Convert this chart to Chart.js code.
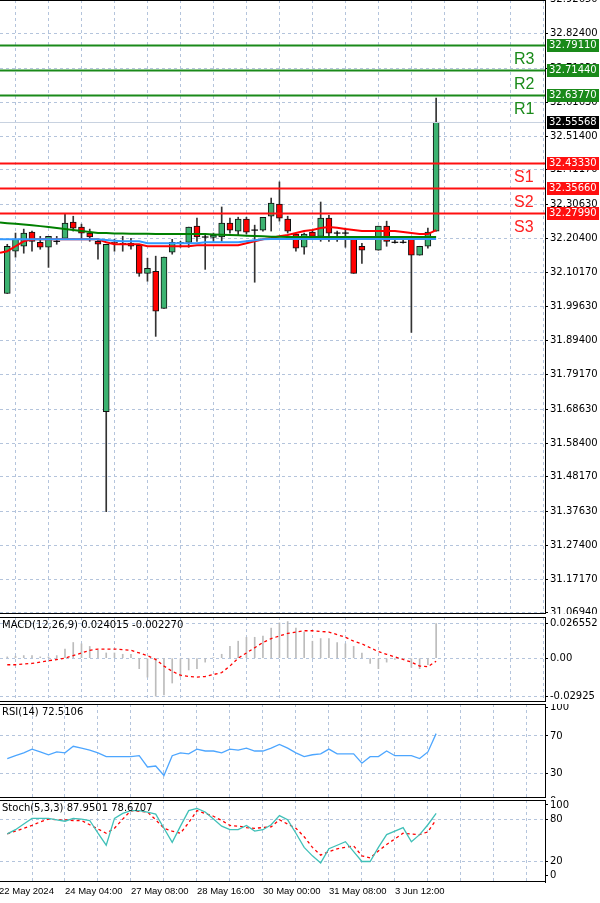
<!DOCTYPE html>
<html><head><meta charset="utf-8">
<script src="https://cdn.jsdelivr.net/npm/chart.js@4"></script>
<style>
html,body{margin:0;padding:0;background:#fff;width:600px;height:903px;overflow:hidden}
canvas{position:absolute;left:0}
</style></head><body>
<canvas id="cMain" style="top:0"></canvas>
<canvas id="cMacd" style="top:617px"></canvas>
<canvas id="cRsi" style="top:704px"></canvas>
<canvas id="cSto" style="top:800px"></canvas>
<script>
// ---------- DATA ----------
const timeLabels = ['22 May 2024','24 May 04:00','27 May 08:00','28 May 16:00','30 May 00:00','31 May 08:00','3 Jun 12:00'];
const openP  = [32.037,32.165,32.180,32.223,32.192,32.177,32.195,32.204,32.253,32.238,32.220,32.195,31.679,32.192,32.189,32.189,32.183,32.098,32.104,31.992,32.162,32.189,32.192,32.241,32.208,32.207,32.208,32.250,32.226,32.262,32.229,32.229,32.271,32.308,32.262,32.217,32.177,32.223,32.210,32.265,32.220,32.220,32.210,32.180,null,32.168,32.241,32.192,32.192,32.201,32.153,32.180,32.226];
const highP  = [32.186,32.220,32.232,32.226,32.210,32.210,32.210,32.277,32.271,32.247,32.232,32.201,32.186,32.201,32.210,32.204,32.183,32.144,32.150,32.147,32.201,32.195,32.238,32.265,32.217,32.220,32.299,32.265,32.268,32.268,32.244,32.268,32.326,32.375,32.271,32.217,32.220,32.229,32.314,32.274,32.226,32.235,32.210,32.189,null,32.241,32.256,32.201,32.201,32.201,32.180,32.235,32.629];
const lowP   = [32.037,32.147,32.159,32.165,32.171,32.116,32.186,32.204,32.226,32.201,32.195,32.141,31.376,32.165,32.165,32.171,32.089,32.074,31.907,31.992,32.156,32.177,32.177,32.195,32.110,32.195,32.195,32.220,32.214,32.217,32.071,32.226,32.226,32.256,32.220,32.165,32.156,32.201,32.195,32.195,32.195,32.177,32.098,32.128,null,32.168,32.180,32.189,32.189,31.919,32.153,32.174,32.226];
const closeP = [32.180,32.201,32.220,32.195,32.177,32.210,32.196,32.250,32.235,32.220,32.208,32.186,32.186,32.189,32.186,32.180,32.098,32.113,31.983,32.147,32.192,32.192,32.238,32.208,32.207,32.214,32.250,32.229,32.262,32.223,32.228,32.268,32.311,32.265,32.226,32.174,32.217,32.210,32.265,32.220,32.219,32.219,32.098,32.168,null,32.241,32.195,32.193,32.193,32.153,32.180,32.223,32.556];
// moving averages: first value is the left edge of the window (bar 0), then one value per candle
const maGreen = [32.252,32.250,32.248,32.246,32.244,32.241,32.238,32.235,32.232,32.229,32.226,32.223,32.220,32.220,32.219,32.219,32.218,32.218,32.218,32.217,32.217,32.217,32.217,32.217,32.217,32.217,32.216,32.215,32.214,32.213,32.212,32.211,32.210,32.209,32.209,32.208,32.208,32.208,32.208,32.208,32.208,32.208,32.208,32.208,32.208,32.208,32.208,32.208,32.208,32.208,32.208,32.208,32.208,32.208];
const maBlue = [32.201,32.201,32.201,32.201,32.201,32.201,32.201,32.201,32.201,32.201,32.201,32.201,32.201,32.199,32.197,32.195,32.195,32.195,32.189,32.189,32.189,32.189,32.189,32.189,32.189,32.192,32.192,32.192,32.192,32.192,32.195,32.198,32.201,32.202,32.202,32.202,32.202,32.202,32.202,32.202,32.202,32.202,32.202,32.202,32.202,32.202,32.202,32.202,32.202,32.202,32.202,32.202,32.202,32.202];
const maRed = [32.160,32.165,32.180,32.195,32.201,32.201,32.201,32.201,32.201,32.201,32.201,32.201,32.201,32.192,32.186,32.186,32.186,32.186,32.180,32.180,32.180,32.180,32.180,32.180,32.183,32.183,32.183,32.183,32.183,32.183,32.189,32.195,32.201,32.205,32.210,32.214,32.220,32.226,32.229,32.235,32.238,32.236,32.232,32.229,32.226,32.226,32.226,32.226,32.226,32.223,32.220,32.217,32.217,32.229];
const resistLevels = [32.7911,32.7144,32.6377];
const resistNames = ['R3','R2','R1'];
const supportLevels = [32.4333,32.3566,32.2799];
const supportNames = ['S1','S2','S3'];
const lastPrice = 32.55568;
const mainTicks = [32.9265,32.824,32.7193,32.6163,32.514,32.4117,32.3063,32.204,32.1017,31.9963,31.894,31.7917,31.6863,31.584,31.4817,31.3763,31.274,31.1717,31.0694];
const macdHist = [0.001,0.0015,0.002,0.002,0.001,0.001,0.002,0.007,0.012,0.011,0.009,0.006,0.004,0.004,0.003,0.003,-0.008,-0.0145,-0.029,-0.028,-0.019,-0.014,-0.009,-0.008,-0.003,0.0005,0.003,0.009,0.013,0.016,0.016,0.017,0.023,0.027,0.028,0.023,0.020,0.013,0.015,0.015,0.012,0.011,0.009,0.004,-0.004,-0.008,-0.003,-0.001,-0.001,-0.007,-0.008,-0.005,0.0265];
const macdSignal = [-0.005,-0.005,-0.0045,-0.004,-0.003,-0.002,-0.001,0,0.002,0.004,0.006,0.007,0.007,0.007,0.0065,0.006,0.004,0.002,-0.001,-0.006,-0.010,-0.013,-0.014,-0.0145,-0.014,-0.0125,-0.011,-0.006,0,0.004,0.008,0.012,0.015,0.017,0.019,0.020,0.021,0.021,0.0205,0.020,0.018,0.016,0.013,0.011,0.008,0.005,0.003,0.001,-0.001,-0.003,-0.006,-0.0065,-0.0023];
const macdTicks = [0.026552,0,-0.02925];
const macdTickText = ['0.026552','0.00','-0.02925'];
const rsiVals = [46,49,52,56,53,50,53,52,59,57,55,52,48,48,48,48,49,37,38,28,49,52,51,56,54,54,52,56,55,57,54,54,57,61,57,52,48,50,51,56,51,51,51,41,48,48,54,49,49,49,46,53,72.5];
const rsiTicks = [100,70,30,0];
const stochMain = [59,65,73,81,81,81,79,77,81,80,78,60,43,81,88,92,92,90,87,67,47,70,92,95,90,80,70,65,65,71,63,65,72,85,79,60,40,28,18,38,43,48,34,20,20,40,58,63,68,48,58,72,88];
const stochSignal = [59,63,67,71,76,80,79,79,78,78,72,66,60,67,80,92,91,90,79,67,63,60,75,92,88,84,78,71,70,68,67,68,69,79,73,67,55,40,29,34,38,40,42,28,25,35,44,52,60,59,58,62,79];
const stochTicks = [100,80,20,0];

// ---------- HELPERS ----------
const FONT = {family:'Tahoma, "DejaVu Sans", "Liberation Sans", sans-serif', size:10};
const GRID = '#b4c4dc';
const XMIN = 0.12, XMAX = 66.2;
const idx = openP.map((_, i) => i + 1);
const pts = arr => arr.map((v, i) => ({x: i + 1, y: v}));
const ptsEdge = arr => arr.map((v, i) => ({x: i === 0 ? XMIN : i, y: v}));
Chart.defaults.font = FONT;
Chart.defaults.color = '#000';
Chart.defaults.animation = false;

function xScale(showLabels) {
  return {
    type: 'linear', min: XMIN, max: XMAX, offset: false,
    afterBuildTicks: s => { const t = []; for (let v = 0; v <= 64; v += 4) t.push({value: v}); s.ticks = t; },
    grid: {color: GRID, drawTicks: false, lineWidth: 1},
    border: {display: false, dash: [3, 3]},
    ticks: {
      display: showLabels, autoSkip: false, maxRotation: 0, align: 'start', padding: 4,
      font: {family: '"Liberation Sans", Arial, sans-serif', size: 9.5}, color: '#000',
      callback: v => (v % 8 === 0 && v / 8 < timeLabels.length) ? timeLabels[v / 8] : ''
    },
    afterFit: s => { if (!showLabels) s.height = 0; else s.height = 21; s.paddingLeft = 0; s.paddingRight = 0; }
  };
}
function yScale(min, max, ticks, fmt, gridFilter) {
  return {
    type: 'linear', position: 'right', min, max,
    afterBuildTicks: s => { s.ticks = ticks.map(v => ({value: v})); },
    grid: {color: ctx => (gridFilter && !gridFilter(ctx.tick && ctx.tick.value)) ? 'rgba(0,0,0,0)' : GRID, drawTicks: true, tickLength: 3, tickColor: '#000'},
    border: {display: true, color: '#000', dash: [3, 3]},
    ticks: {autoSkip: false, padding: 2, font: FONT, color: '#000', callback: fmt},
    afterFit: s => { s.width = 55; s.paddingTop = 0; s.paddingBottom = 0; }
  };
}

const frame = {
  id: 'frame',
  afterDraw(chart) {
    const {ctx, chartArea: a} = chart;
    ctx.save();
    ctx.strokeStyle = '#000'; ctx.lineWidth = 1;
    ctx.strokeRect(Math.round(a.left) - 0.5, Math.round(a.top) + 0.5, Math.round(a.right - a.left) + 1, Math.round(a.bottom - a.top) - 1);
    ctx.restore();
    const t = chart.options.plugins.panelTitle;
    if (t) {
      ctx.save(); ctx.font = '10px ' + FONT.family; ctx.fillStyle = '#000'; ctx.textBaseline = 'top';
      ctx.fillText(t, a.left + 2, a.top + 3); ctx.restore();
    }
  }
};

function makeOpts(extra) {
  return Object.assign({
    responsive: false, maintainAspectRatio: false, animation: false,
    layout: {padding: 0, autoPadding: false},
    plugins: {legend: {display: false}, tooltip: {enabled: false}},
    datasets: {bar: {grouped: false}}
  }, extra);
}
function setSize(id, h) { const c = document.getElementById(id); c.width = 600; c.height = h; c.style.width = '600px'; c.style.height = h + 'px'; return c; }

// ---------- MAIN PRICE CHART ----------
const isUp = i => closeP[i] >= openP[i];
const levels = {
  id: 'levels',
  afterDatasetsDraw(chart) {
    const {ctx, chartArea: a, scales: {y}} = chart;
    ctx.save();
    function hline(v, color, w) {
      const py = Math.round(y.getPixelForValue(v)) + 0.5;
      ctx.strokeStyle = color; ctx.lineWidth = w;
      ctx.beginPath(); ctx.moveTo(a.left, py); ctx.lineTo(a.right, py); ctx.stroke();
      return py;
    }
    hline(lastPrice, '#c8d2e0', 1);
    resistLevels.forEach((v, i) => {
      const py = hline(v, '#1a8a1a', 2);
      ctx.fillStyle = '#1a8a1a'; ctx.font = '16px "Liberation Sans", Arial, sans-serif'; ctx.textBaseline = 'middle'; ctx.textAlign = 'left';
      ctx.fillText(resistNames[i], a.right - 31, py + 14);
    });
    supportLevels.forEach((v, i) => {
      const py = hline(v, '#ff1010', 2);
      ctx.fillStyle = '#ff2020'; ctx.font = '16px "Liberation Sans", Arial, sans-serif'; ctx.textBaseline = 'middle'; ctx.textAlign = 'left';
      ctx.fillText(supportNames[i], a.right - 31, py + 14);
    });
    ctx.restore();
  },
  afterDraw(chart) {
    const {ctx, chartArea: a, scales: {y}} = chart;
    ctx.save();
    function box(v, bg, txt) {
      const py = Math.round(y.getPixelForValue(v));
      ctx.fillStyle = bg; ctx.fillRect(a.right + 2, py - 6, 52, 13);
      ctx.fillStyle = '#fff'; ctx.font = '10px ' + FONT.family; ctx.textBaseline = 'middle'; ctx.textAlign = 'left';
      ctx.fillText(txt, a.right + 4, py + 0.5);
    }
    resistLevels.forEach(v => box(v, '#1a8a1a', v.toFixed(5)));
    supportLevels.forEach(v => box(v, '#ff1010', v.toFixed(5)));
    box(lastPrice, '#000', lastPrice.toFixed(5));
    ctx.restore();
  }
};

setSize('cMain', 614);
new Chart(document.getElementById('cMain'), {
  data: {
    datasets: [
      {type: 'line', data: ptsEdge(maGreen), borderColor: '#008000', borderWidth: 2, pointRadius: 0, order: 0},
      {type: 'line', data: ptsEdge(maBlue), borderColor: '#3399ff', borderWidth: 2, pointRadius: 0, order: 0},
      {type: 'line', data: ptsEdge(maRed), borderColor: '#ff0000', borderWidth: 2, pointRadius: 0, order: 0},
      {type: 'bar', data: idx.map((x, i) => ({x, y: highP[i] == null ? null : [lowP[i], highP[i]]})),
        backgroundColor: '#333', barThickness: 1, order: 3},
      {type: 'bar', data: idx.map((x, i) => ({x, y: openP[i] == null ? null : (Math.abs(closeP[i] - openP[i]) < 0.002 ? [openP[i] - 0.0008, openP[i] + 0.0008] : [openP[i], closeP[i]])})),
        backgroundColor: idx.map((x, i) => Math.abs(closeP[i] - openP[i]) < 0.002 ? '#000' : (isUp(i) ? '#3cb371' : '#ff0000')),
        borderColor: '#111', borderWidth: idx.map((x, i) => Math.abs(closeP[i] - openP[i]) < 0.002 ? 0 : 1), borderSkipped: false, barThickness: 6, order: 2}
    ]
  },
  options: makeOpts({
    scales: {
      x: xScale(false),
      y: yScale(31.066, 32.926, mainTicks, v => v.toFixed(5))
    }
  }),
  plugins: [levels, frame]
});

// ---------- MACD ----------
setSize('cMacd', 85);
new Chart(document.getElementById('cMacd'), {
  data: {
    datasets: [
      {type: 'line', data: pts(macdSignal), borderColor: '#ff0000', borderWidth: 1.3, borderDash: [3, 3], pointRadius: 0, order: 0},
      {type: 'bar', data: pts(macdHist), backgroundColor: '#bcbcbc', barThickness: 1, order: 1}
    ]
  },
  options: makeOpts({
    plugins: {legend: {display: false}, tooltip: {enabled: false}, panelTitle: 'MACD(12,26,9) 0.024015 -0.002270'},
    scales: {
      x: xScale(false),
      y: yScale(-0.0335, 0.0315, macdTicks, v => macdTickText[macdTicks.indexOf(v)] || '')
    }
  }),
  plugins: [frame]
});

// ---------- RSI ----------
setSize('cRsi', 94);
new Chart(document.getElementById('cRsi'), {
  data: {datasets: [{type: 'line', data: pts(rsiVals), borderColor: '#4da6ff', borderWidth: 1.3, pointRadius: 0}]},
  options: makeOpts({
    plugins: {legend: {display: false}, tooltip: {enabled: false}, panelTitle: 'RSI(14) 72.5106'},
    scales: {
      x: xScale(false),
      y: yScale(4, 104, rsiTicks, v => String(v), v => v === 70 || v === 30)
    }
  }),
  plugins: [frame]
});

// ---------- STOCH ----------
setSize('cSto', 103);
new Chart(document.getElementById('cSto'), {
  data: {
    datasets: [
      {type: 'line', data: pts(stochMain), borderColor: '#40c0b8', borderWidth: 1.3, pointRadius: 0},
      {type: 'line', data: pts(stochSignal), borderColor: '#ff0000', borderWidth: 1.3, borderDash: [3, 3], pointRadius: 0}
    ]
  },
  options: makeOpts({
    plugins: {legend: {display: false}, tooltip: {enabled: false}, panelTitle: 'Stoch(5,3,3) 87.9501 78.6707'},
    scales: {
      x: xScale(true),
      y: yScale(-9, 107, stochTicks, v => String(v), v => v === 80 || v === 20)
    }
  }),
  plugins: [frame]
});
</script>
</body></html>
